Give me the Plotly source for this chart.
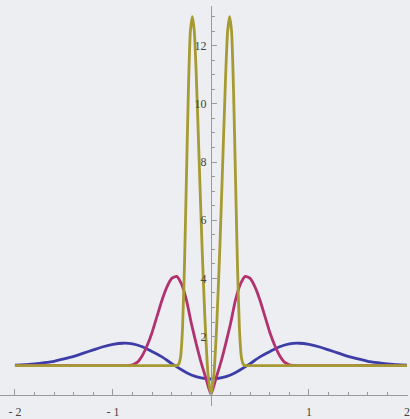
import plotly.graph_objects as go

# ---- data ----
blue_x = [-2.0, -1.9, -1.8, -1.7, -1.6, -1.5, -1.4, -1.3, -1.2, -1.1, -1.0, -0.9, -0.8, -0.7, -0.6, -0.5, -0.4, -0.3, -0.2, -0.1, 0.0,
          0.1, 0.2, 0.3, 0.4, 0.5, 0.6, 0.7, 0.8, 0.9, 1.0, 1.1, 1.2, 1.3, 1.4, 1.5, 1.6, 1.7, 1.8, 1.9, 2.0]
blue_y = [1.02, 1.03, 1.06, 1.10, 1.15, 1.23, 1.32, 1.43, 1.54, 1.65, 1.73, 1.77, 1.75, 1.65, 1.48, 1.30, 1.07, 0.86, 0.68, 0.58, 0.54,
          0.58, 0.68, 0.86, 1.07, 1.30, 1.48, 1.65, 1.75, 1.77, 1.73, 1.65, 1.54, 1.43, 1.32, 1.23, 1.15, 1.10, 1.06, 1.03, 1.02]

mag_x = [-2.0, -1.0, -0.9, -0.8, -0.75, -0.7, -0.65, -0.6, -0.55, -0.5, -0.45, -0.4, -0.35, -0.3, -0.25, -0.2, -0.15, -0.1, -0.05, 0.0,
         0.05, 0.1, 0.15, 0.2, 0.25, 0.3, 0.35, 0.4, 0.45, 0.5, 0.55, 0.6, 0.65, 0.7, 0.75, 0.8, 0.9, 1.0, 2.0]
mag_y = [1.0, 1.0, 1.0, 1.03, 1.12, 1.35, 1.7, 2.15, 2.7, 3.25, 3.7, 4.0, 4.07, 3.8, 3.25, 2.45, 1.75, 1.1, 0.55, 0.02,
         0.55, 1.1, 1.75, 2.45, 3.25, 3.8, 4.07, 4.0, 3.7, 3.25, 2.7, 2.15, 1.7, 1.35, 1.12, 1.03, 1.0, 1.0, 1.0]

oli_x = [-2.0, -0.4, -0.35, -0.33, -0.31, -0.29, -0.27, -0.25, -0.23, -0.21, -0.19, -0.17, -0.15, -0.12, -0.09, -0.06, -0.03, 0.0,
         0.03, 0.06, 0.09, 0.12, 0.15, 0.17, 0.19, 0.21, 0.23, 0.25, 0.27, 0.29, 0.31, 0.33, 0.35, 0.4, 2.0]
oli_y = [1.0, 1.0, 1.0, 1.05, 1.3, 2.3, 4.5, 7.5, 10.5, 12.5, 13.0, 12.5, 11.0, 8.0, 5.0, 2.5, 0.7, 0.0,
         0.7, 2.5, 5.0, 8.0, 11.0, 12.5, 13.0, 12.5, 10.5, 7.5, 4.5, 2.3, 1.3, 1.05, 1.0, 1.0, 1.0]

x_tick_vals = [-2, -1, 1, 2]
x_tick_text = ["- 2", "- 1", "1", "2"]
y_tick_vals = [2, 4, 6, 8, 10, 12]
y_tick_text = ["2", "4", "6", "8", "10", "12"]

fig = go.Figure()
for xs, ys, col in [(blue_x, blue_y, "#3d3da8"), (mag_x, mag_y, "#b2326f"), (oli_x, oli_y, "#a69a33")]:
    fig.add_trace(go.Scatter(x=xs, y=ys, mode="lines",
                             line=dict(color=col, width=2.8, shape="spline", smoothing=0.6),
                             hoverinfo="skip", showlegend=False))

W, H = 410, 419
x_lo, x_hi = -212 / 98.5, 198 / 98.5
y_bot_px, y_top_px = 407, 6
y_lo = -(y_bot_px - 395.65) / 29.15
y_hi = (395.65 - y_top_px) / 29.15

fig.update_layout(
    width=W, height=H,
    margin=dict(l=0, r=0, t=0, b=0),
    paper_bgcolor="#eceef1",
    plot_bgcolor="#eceef1",
    xaxis=dict(range=[x_lo, x_hi], domain=[0, 1], anchor="free", position=(H - 395.65) / H,
               showline=True, linecolor="#9a9a9a", linewidth=1,
               showgrid=False, zeroline=False,
               ticks="inside", ticklen=6, tickcolor="#9a9a9a", tickwidth=1,
               tickvals=x_tick_vals, ticktext=x_tick_text, ticklabelstandoff=6,
               ticklabeloverflow="allow",
               minor=dict(tickvals=[round(-2 + 0.2 * i, 2) for i in range(21)], ticks="inside",
                          ticklen=3, tickcolor="#9a9a9a"),
               tickfont=dict(family="Liberation Serif", size=12, color="#444444")),
    yaxis=dict(range=[y_lo, y_hi], domain=[(H - y_bot_px) / H, (H - y_top_px) / H],
               anchor="free", position=212 / W,
               showline=True, linecolor="#9a9a9a", linewidth=1,
               showgrid=False, zeroline=False,
               ticks="inside", ticklen=5, tickcolor="#9a9a9a", tickwidth=1,
               tickvals=y_tick_vals, ticktext=y_tick_text, ticklabelstandoff=2,
               minor=dict(tickvals=[0.5 * i for i in range(1, 27)], ticks="inside",
                          ticklen=3, tickcolor="#9a9a9a"),
               tickfont=dict(family="Liberation Serif", size=12, color="#444444")),
)

fig.write_html("out.html", config={"displayModeBar": False, "staticPlot": True},
               post_script="document.body.style.margin='0';document.body.style.background='#eceef1';")
